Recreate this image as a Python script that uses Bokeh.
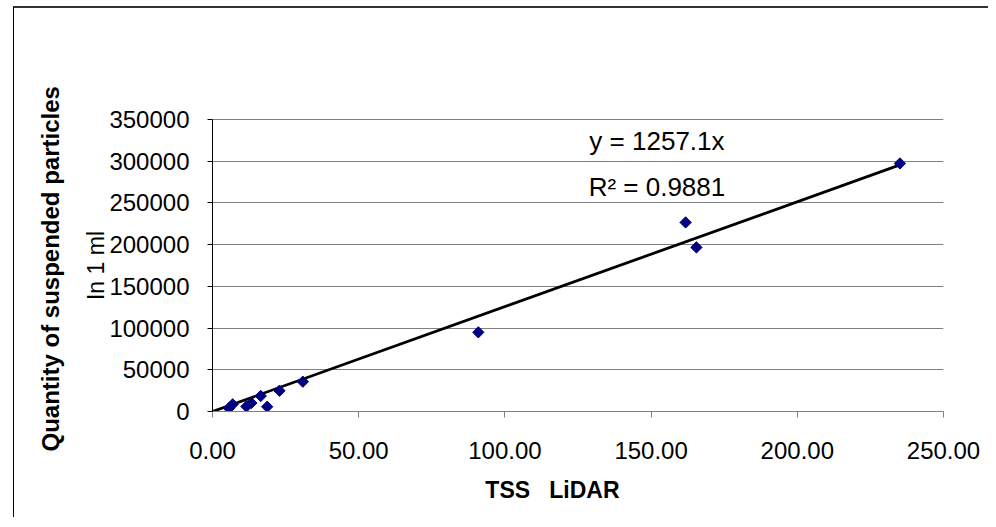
from bokeh.plotting import figure
from bokeh.models import Range1d, FixedTicker, NumeralTickFormatter, LinearAxis, Label, Span, ColumnDataSource
from bokeh.embed import file_html
from bokeh.resources import INLINE
import numpy as np

# data
tss_lidar = [5.6, 6.9, 11.6, 13.3, 16.5, 18.7, 22.9, 30.9, 90.9, 161.8, 165.5, 235.1]
particles = [3800, 8600, 6000, 10200, 18600, 5700, 24900, 35700, 94900, 226600, 196700, 297300]
slope = 1257.1
r2 = 0.9881
x_ticks = [0, 50, 100, 150, 200, 250]
y_ticks = [0, 50000, 100000, 150000, 200000, 250000, 300000, 350000]

FONT = "Liberation Sans"

p = figure(width=975, height=511, output_backend="svg", toolbar_location=None,
           x_range=Range1d(x_ticks[0], x_ticks[-1]), y_range=Range1d(y_ticks[0], y_ticks[-1]),
           min_border_left=198, min_border_right=46, min_border_top=111, min_border_bottom=108)
p.margin = (6, 0, 0, 13)
p.styles = {"border-left": "1px solid #000000", "border-top": "2px solid #333333"}
p.outline_line_color = None
p.background_fill_color = "white"
p.border_fill_color = "white"

# grid
p.xgrid.grid_line_color = None
p.ygrid.ticker = FixedTicker(ticks=y_ticks)
p.ygrid.grid_line_color = "#808080"
p.ygrid.grid_line_width = 1
p.add_layout(Span(location=y_ticks[-1], dimension="width", line_color="black", line_width=1))

# x axis
xa = p.xaxis[0]
xa.ticker = FixedTicker(ticks=x_ticks)
xa.formatter = NumeralTickFormatter(format="0.00")
xa.axis_line_color = "#808080"
xa.major_tick_line_color = "#808080"
xa.major_tick_out = 6
xa.major_tick_in = 0
xa.minor_tick_line_color = None
xa.major_label_text_font = FONT
xa.major_label_text_font_size = "24px"
xa.major_label_text_color = "black"
xa.major_label_standoff = 24
xa.axis_label = "TSS\u00a0\u00a0\u00a0LiDAR" + "\u00a0" * 8
xa.axis_label_text_font = FONT
xa.axis_label_text_font_style = "bold"
xa.axis_label_text_font_size = "23px"
xa.axis_label_text_color = "black"
xa.axis_label_standoff = 15

# y axis
ya = p.yaxis[0]
ya.ticker = FixedTicker(ticks=y_ticks)
ya.formatter = NumeralTickFormatter(format="0")
ya.axis_line_color = "black"
ya.major_tick_line_color = "black"
ya.major_tick_out = 5
ya.major_tick_in = 0
ya.minor_tick_line_color = None
ya.major_label_text_font = FONT
ya.major_label_text_font_size = "24px"
ya.major_label_text_color = "black"
ya.major_label_standoff = 18
ya.axis_label = "In 1 ml"
ya.axis_label_text_font = FONT
ya.axis_label_text_font_style = "normal"
ya.axis_label_text_font_size = "23px"
ya.axis_label_text_color = "black"
ya.axis_label_standoff = -3

# bold first line of the y title, as a bare outer axis
ya2 = LinearAxis(ticker=FixedTicker(ticks=[]), axis_line_color=None,
                 major_tick_line_color=None, minor_tick_line_color=None,
                 major_tick_out=0, major_tick_in=0,
                 axis_label="Quantity of suspended particles\u00a0",
                 axis_label_text_font=FONT, axis_label_text_font_style="bold",
                 axis_label_text_font_size="24px", axis_label_text_color="black",
                 axis_label_standoff=17)
p.add_layout(ya2, "left")

# trendline through origin
tx = np.array([0, max(tss_lidar)])
p.line(tx, slope * tx, line_color="black", line_width=2.8)

# points
src = ColumnDataSource(dict(x=tss_lidar, y=particles))
p.scatter("x", "y", source=src, marker="square", angle=np.pi / 4, size=8,
          fill_color="#000080", line_color="#000080")

# equation
p.add_layout(Label(x=152, y=324000, text=f"y = {slope}x", text_align="center", text_baseline="middle",
                   text_font=FONT, text_font_size="26px", text_color="black"))
p.add_layout(Label(x=152, y=269000, text=f"R\u00b2 = {r2}", text_align="center", text_baseline="middle",
                   text_font=FONT, text_font_size="26px", text_color="black"))

open("out.html", "w").write(file_html(p, INLINE))
